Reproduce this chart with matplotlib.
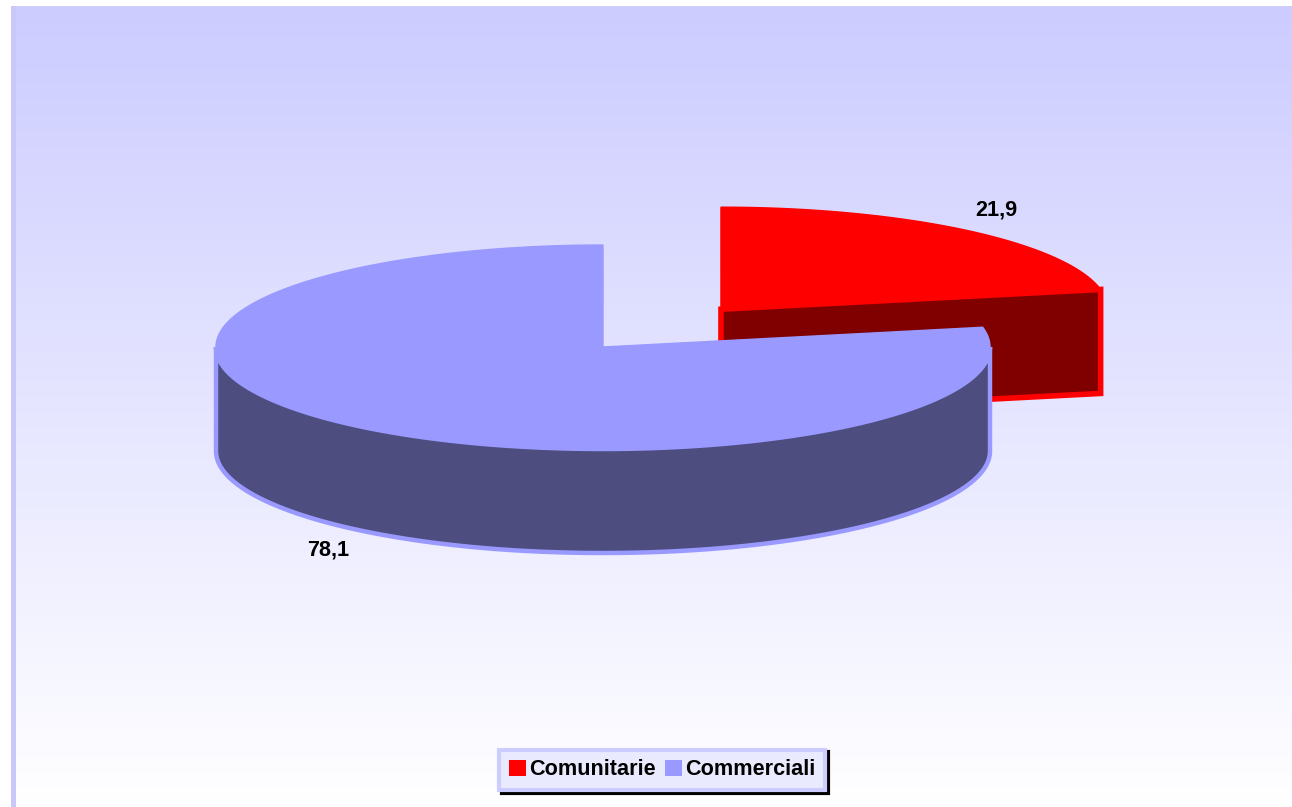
import numpy as np
import matplotlib.pyplot as plt
from matplotlib.patches import Polygon, Patch, Rectangle
from matplotlib.colors import LinearSegmentedColormap

# dati
categorie = ["Comunitarie", "Commerciali"]
valori = [21.9, 78.1]
etichette = ["21,9", "78,1"]
colori_top = ["#FF0000", "#9999FF"]
colori_lato = ["#800000", "#4D4D80"]
esploso = [0.48, 0.0]

W, H = 1292, 807
fig = plt.figure(figsize=(W / 100, H / 100), dpi=100)
ax = fig.add_axes([0, 0, 1, 1])
ax.set_xlim(0, W)
ax.set_ylim(H, 0)
ax.axis("off")

# sfondo sfumato
grad = np.linspace(0, 1, 256).reshape(-1, 1)
cmap = LinearSegmentedColormap.from_list("bg", ["#CCCCFF", "#FFFFFF"])
ax.imshow(grad, extent=[11, W, H, 6], aspect="auto", cmap=cmap, zorder=0)
ax.add_patch(Rectangle((11, 6), 5, H - 6, color="#C8C8FA", lw=0, zorder=1))

# torta 3D
cx, cy = 603, 347
rx, ry = 387, 102
depth = 104
font = {"family": "Liberation Sans", "weight": "bold", "size": 15.6}


def punto(c, t, dz=0):
    return (c[0] + rx * np.cos(np.radians(t)), c[1] - ry * np.sin(np.radians(t)) + dz)


start = 90.0
z = 2
for i, v in enumerate(valori):
    t1 = start
    t2 = start - 360 * v / 100
    start = t2
    mid = (t1 + t2) / 2
    c = (cx + esploso[i] * rx * np.cos(np.radians(mid)),
         cy - esploso[i] * ry * np.sin(np.radians(mid)))
    lw_ = 4 if i == 0 else 3.2

    # facce radiali visibili
    for t, n in ((t1, t1 + 90), (t2, t2 - 90)):
        if np.sin(np.radians(n)) < -1e-6:
            p = punto(c, t)
            quad = [c, p, (p[0], p[1] + depth), (c[0], c[1] + depth)]
            ax.add_patch(Polygon(quad, closed=True, facecolor=colori_lato[i],
                                 edgecolor=colori_top[i], lw=lw_, zorder=z))
            z += 1

    # lato curvo anteriore
    lo, hi = max(t2, -180), min(t1, 0)
    if hi > lo:
        ts = np.linspace(hi, lo, 200)
        top = [punto(c, t) for t in ts]
        bot = [punto(c, t, depth) for t in ts[::-1]]
        ax.add_patch(Polygon(top + bot, closed=True, facecolor=colori_lato[i],
                             edgecolor=colori_top[i], lw=lw_, zorder=z))
        z += 1

    # faccia superiore
    ts = np.linspace(t1, t2, 300)
    pts = [c] + [punto(c, t) for t in ts]
    ax.add_patch(Polygon(pts, closed=True, facecolor=colori_top[i],
                         edgecolor=colori_top[i], lw=1, zorder=z))
    z += 1

    # etichetta
    k = 1.12
    lx = c[0] + k * rx * np.cos(np.radians(mid))
    ly = c[1] - k * ry * np.sin(np.radians(mid))
    if np.sin(np.radians(mid)) < 0:
        ax.text(lx, ly + depth, etichette[i], ha="center", va="top", fontdict=font, zorder=20)
    else:
        ax.text(lx, ly, etichette[i], ha="center", va="bottom", fontdict=font, zorder=20)

handles = [Patch(facecolor=col, edgecolor="none") for col in colori_top]
leg = ax.legend(handles, categorie, loc="center", bbox_to_anchor=(0.5125, 0.046),
                ncol=2, prop=font, frameon=True, fancybox=False,
                shadow={"color": "black", "alpha": 1},
                handlelength=0.8, handleheight=0.8, handletextpad=0.15,
                columnspacing=0.4, borderpad=0.45, borderaxespad=0)
leg.get_frame().set_facecolor("#EAEAFF")
leg.get_frame().set_edgecolor("#CCCCFF")
leg.get_frame().set_linewidth(3)
leg.set_zorder(30)

fig.savefig("out.png", dpi=100)
